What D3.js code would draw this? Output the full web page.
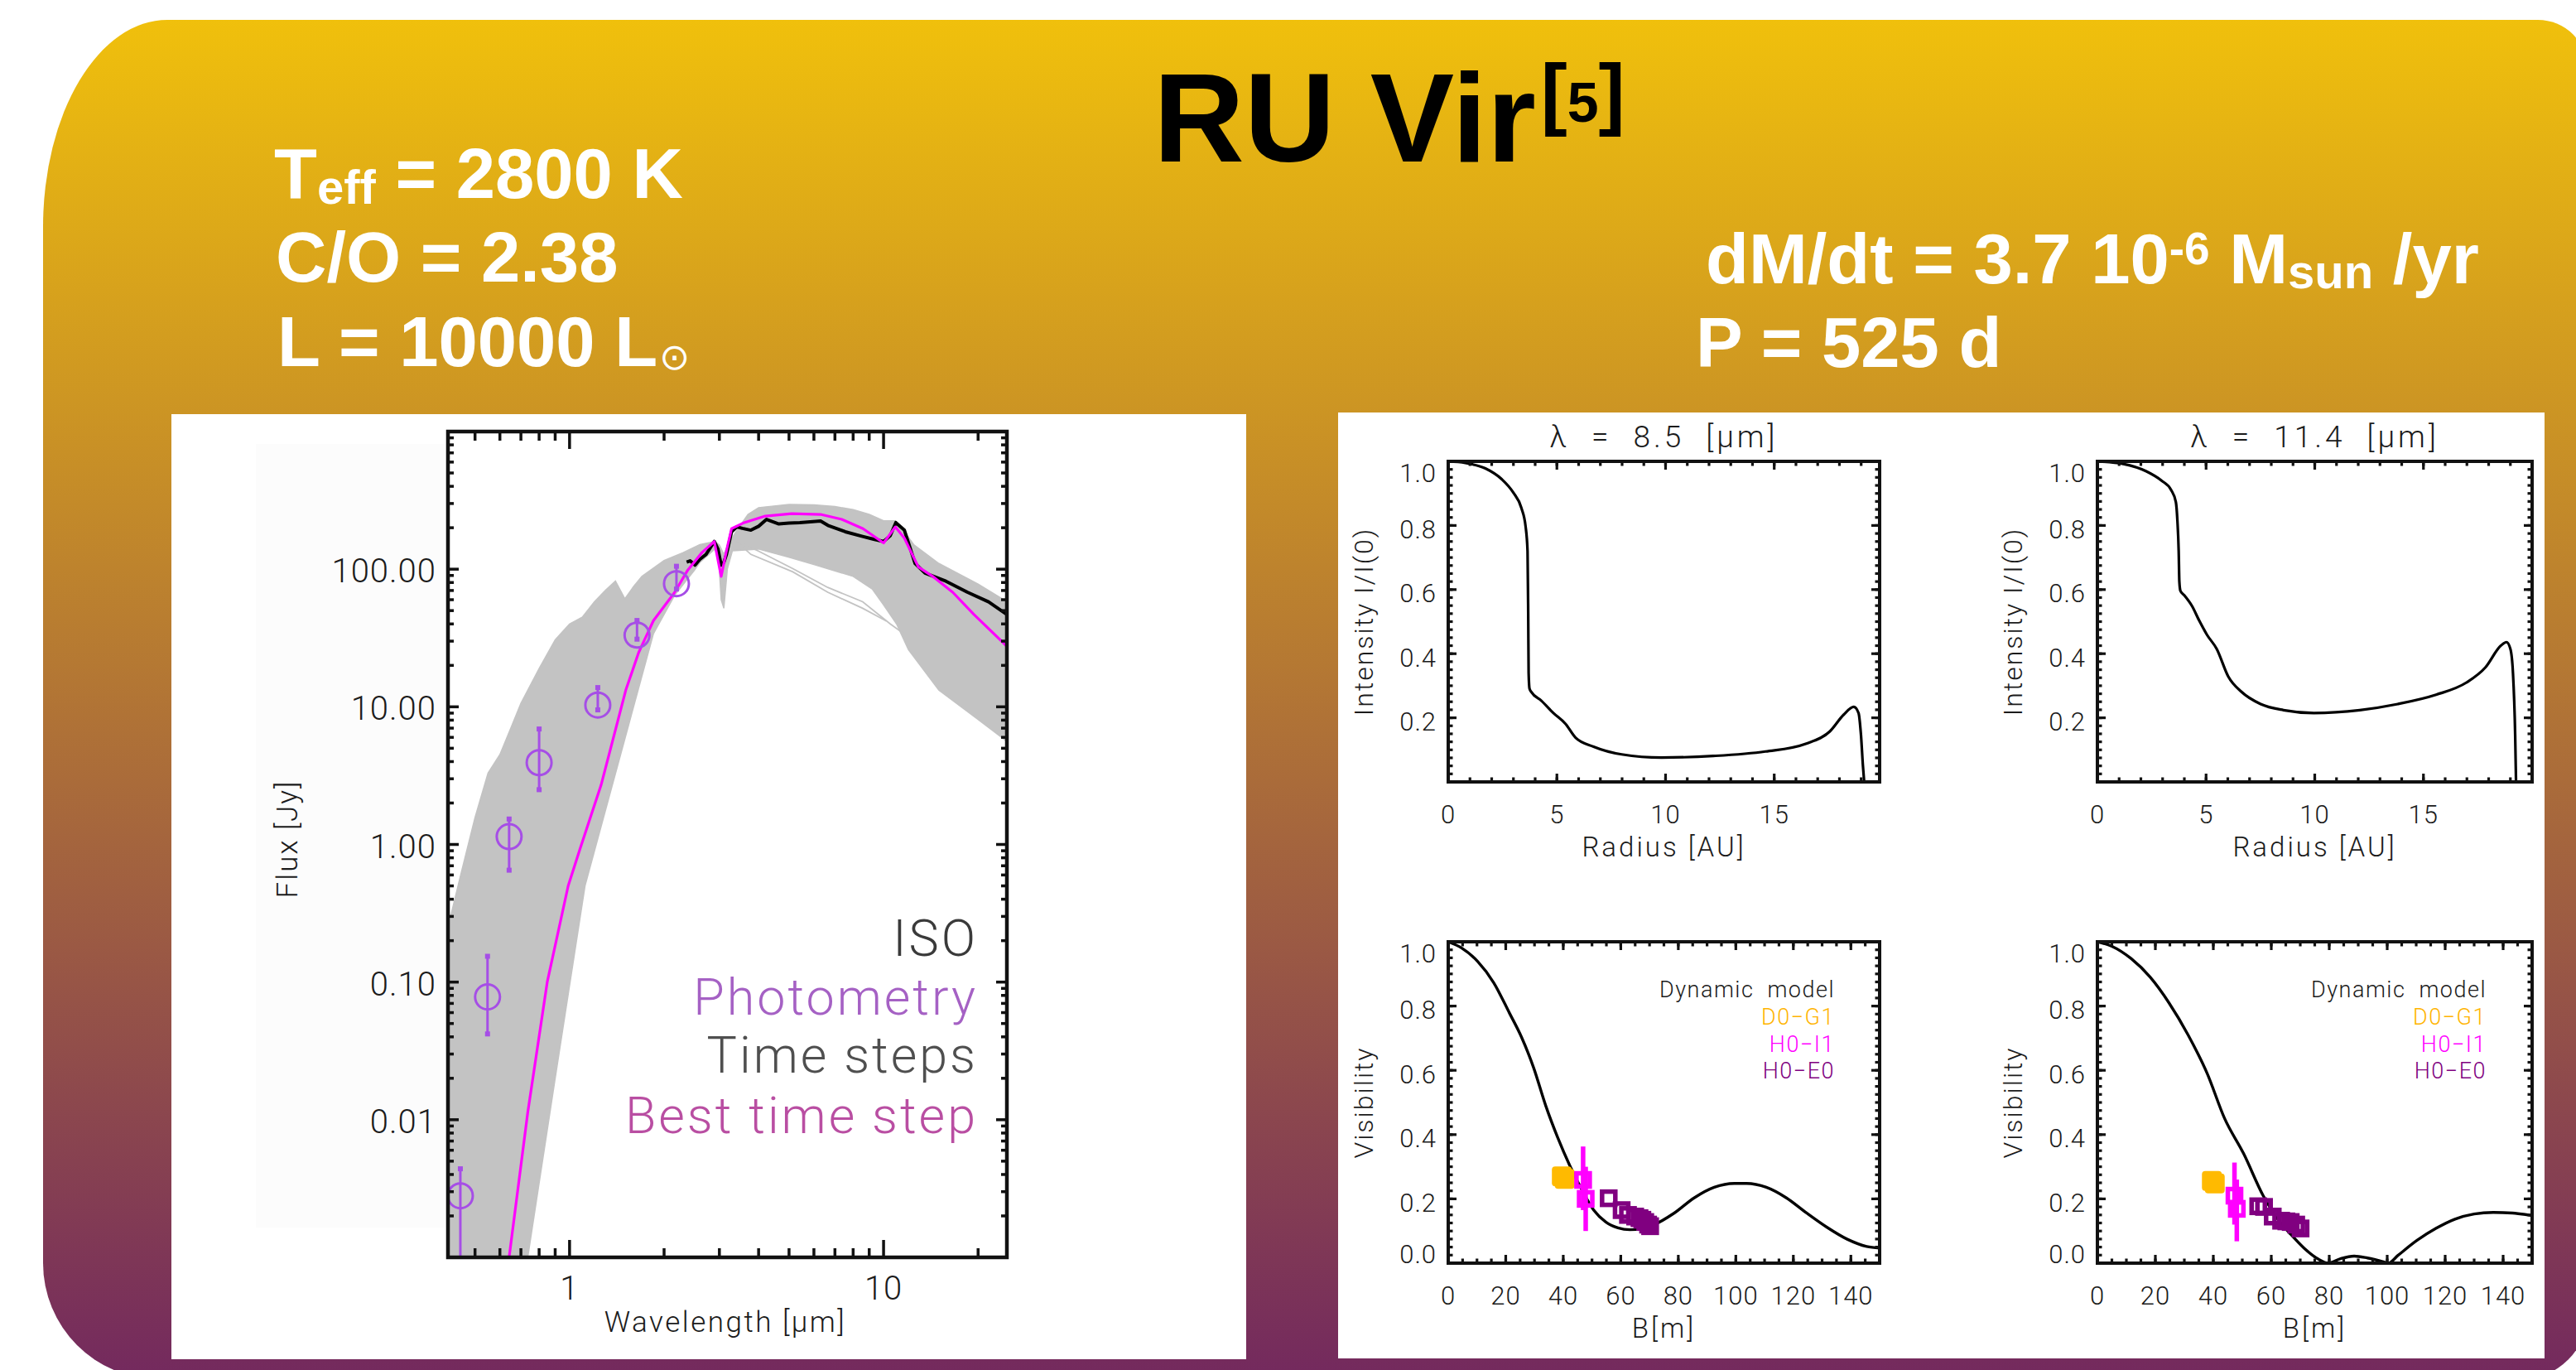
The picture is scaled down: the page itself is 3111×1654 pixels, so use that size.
<!DOCTYPE html>
<html>
<head>
<meta charset="utf-8">
<script src="https://cdn.jsdelivr.net/npm/d3@7"></script>
<style>
  html, body { margin: 0; padding: 0; background: #fff; }
  svg { display: block; }
  .idl { font-family: Roboto, "Open Sans", "DejaVu Sans", sans-serif; font-weight: 300; fill: #1b1b1b; }
  .head { font-family: "Liberation Sans", Arial, sans-serif; font-weight: 700; }
</style>
</head>
<body>
<svg id="slide" width="3111" height="1654"></svg>
<script>
// ---------- SED panel: tick marks and labels ----------
const sedYTicks = [100, 10, 1, 0.1, 0.01];
const sedYLabels = ["100.00", "10.00", "1.00", "0.10", "0.01"];
const sedXTicks = [1, 10];
const sedXLabels = ["1", "10"];
const sedXMinor = [0.5, 0.6, 0.7, 0.8, 0.9, 2, 3, 4, 5, 6, 7, 8, 9, 20];

// Photometry (wavelength in micron, flux in Jy, error bar ends)
const photLambda = [0.449, 0.548, 0.642, 0.80, 1.23, 1.64, 2.19];
const photFlux   = [0.0028, 0.078, 1.14, 3.93, 10.3, 33.2, 78.5];
const photLow    = [0.0004, 0.042, 0.65, 2.5, 9.5, 31, 71.7];
const photHigh   = [0.0044, 0.154, 1.53, 6.9, 13.8, 42.4, 105];

// Envelope of all model time steps
const stepsUpperLambda = [0.41, 0.45, 0.5, 0.55, 0.6, 0.65, 0.7, 0.8, 0.9, 1.0, 1.1, 1.2, 1.3, 1.4, 1.5, 1.6, 1.7, 2.0, 2.3, 2.6, 2.9, 3.0, 3.1, 3.2, 3.4, 3.7, 4.0, 5.0, 6.0, 7.0, 8.0, 9.0, 10.0, 10.9, 11.6, 12.5, 15, 20, 24.7];
const stepsUpperFlux   = [0.25, 0.6, 1.57, 3.3, 4.5, 7.0, 10.6, 19, 30.7, 40, 45, 58, 70, 82, 61, 75, 88.6, 115.7, 132, 151, 159, 150, 128, 150, 190, 250, 280, 295, 293, 285, 271, 250, 225, 225, 190, 150, 110, 78, 58];
const stepsLowerLambda = [24.7, 20, 15, 12, 11, 10, 9.2, 8, 6, 5, 4, 3.3, 3.18, 3.1, 3.04, 2.98, 2.9, 2.6, 2.5, 2.16, 1.85, 1.55, 1.12, 0.9, 0.736, 0.41];
const stepsLowerFlux   = [5.6, 8.1, 13.2, 26, 40, 55, 71.7, 88.6, 108, 122, 140, 136, 100, 52, 60, 125, 140, 112, 98.6, 64.5, 34, 7.7, 0.5, 0.02, 0.001, 0.001];
// Two time steps that fall below the bulk in the mid-infrared
const stepOutlierALambda = [3.41, 3.98, 5.14, 6.64, 8.58, 10.5, 11.6];
const stepOutlierAFlux   = [159, 136, 101, 73.7, 58, 40, 34];
const stepOutlierBLambda = [3.5, 3.78, 5.14, 6.64, 8.58, 10.2];
const stepOutlierBFlux   = [150, 128, 95.6, 68, 52, 42];

// Best-fitting time step
const bestLambda = [0.642, 0.736, 0.849, 0.99, 1.08, 1.26, 1.51, 1.66, 1.85, 2.16, 2.38, 2.64, 2.89, 3.04, 3.16, 3.28, 3.6, 4.2, 5.1, 6.3, 7.36, 8.6, 10.0, 10.9, 11.65, 12.9, 14.3, 16.6, 19.4, 24.7];
const bestFlux   = [0.001, 0.0113, 0.1, 0.5, 0.93, 2.7, 13.2, 24.8, 42.3, 67.8, 98.6, 132, 159, 88.6, 136, 197, 218, 243, 253, 250, 230, 197, 155, 203, 168, 104, 89, 68, 46.9, 27.5];

// ISO spectrum
const isoLambda = [2.36, 2.42, 2.51, 2.6, 2.72, 2.89, 2.97, 3.04, 3.1, 3.16, 3.28, 3.41, 3.55, 3.78, 4.0, 4.24, 4.64, 5.0, 5.41, 6.3, 6.65, 7.55, 8.57, 9.3, 10.0, 10.5, 10.94, 11.65, 12.6, 13.55, 15.8, 18.5, 21.6, 24.7];
const isoFlux   = [112.6, 115, 107, 118, 128, 159, 140, 107, 112, 128, 187, 203, 198, 192, 205, 230, 213, 216, 218, 224, 208, 187, 173, 165, 159, 175, 218, 192, 110, 93.6, 81.8, 68, 57.9, 46.9];

// ---------- Intensity profiles ----------
const int85Radius = [0, 0.79, 1.71, 2.45, 3.0, 3.37, 3.56, 3.65, 3.68, 3.70, 3.74, 3.83, 4.29, 4.84, 5.40, 5.86, 6.69, 7.98, 9.82, 12.2, 14.6, 16.45, 17.55, 18.2, 18.66, 18.88, 18.99, 19.08, 19.14];
const int85Value  = [1.0, 0.995, 0.978, 0.945, 0.902, 0.854, 0.797, 0.72, 0.53, 0.339, 0.291, 0.28, 0.253, 0.215, 0.181, 0.138, 0.110, 0.086, 0.076, 0.081, 0.095, 0.119, 0.157, 0.21, 0.234, 0.215, 0.148, 0.052, 0.0];
const int114Radius = [0, 1.19, 2.25, 2.95, 3.39, 3.61, 3.68, 3.74, 3.77, 3.82, 4.0, 4.35, 4.70, 5.05, 5.49, 6.02, 6.63, 7.51, 8.56, 9.96, 12.07, 13.82, 15.58, 16.98, 17.86, 18.56, 18.82, 19.0, 19.12, 19.22, 19.26];
const int114Value  = [1.0, 0.992, 0.969, 0.94, 0.911, 0.873, 0.816, 0.72, 0.625, 0.596, 0.582, 0.549, 0.501, 0.458, 0.415, 0.329, 0.281, 0.243, 0.224, 0.215, 0.224, 0.243, 0.272, 0.31, 0.358, 0.425, 0.436, 0.415, 0.339, 0.148, 0.0];

// ---------- Visibility curves ----------
const vis85B = [0, 4.6, 10.2, 15.8, 21.3, 25.5, 29.7, 33.9, 38.1, 42.3, 46.5, 50.6, 54.8, 59.0, 63.2, 67.4, 71.6, 78.6, 85.5, 92.5, 99.5, 103.7, 110.6, 117.6, 124.6, 131.6, 138.6, 145.5, 150];
const vis85V = [1.0, 0.981, 0.939, 0.873, 0.778, 0.703, 0.608, 0.49, 0.39, 0.303, 0.228, 0.165, 0.128, 0.11, 0.104, 0.108, 0.12, 0.156, 0.203, 0.236, 0.248, 0.248, 0.236, 0.203, 0.156, 0.112, 0.075, 0.052, 0.047];
const vis114B = [0, 5, 11.6, 18.2, 24.7, 31.3, 37.9, 43.9, 50.5, 57.2, 62, 66.8, 71.5, 76.3, 79.6, 83.9, 88.6, 93.2, 98.4, 100.4, 103.7, 110.3, 116.8, 123.4, 130, 136.6, 143.2, 150];
const vis114V = [1.0, 0.986, 0.948, 0.89, 0.81, 0.71, 0.59, 0.45, 0.34, 0.21, 0.14, 0.089, 0.045, 0.012, 0.0, 0.014, 0.022, 0.016, 0.005, 0.0, 0.024, 0.071, 0.108, 0.137, 0.153, 0.158, 0.156, 0.148];

// Interferometric measurements: D0-G1, H0-I1, H0-E0
const d0g1B85 = [39.5, 40.5];   const d0g1V85 = [0.27, 0.262];
const h0i1B85 = [46.9, 47.8];   const h0i1V85 = [0.259, 0.20];
const h0i1Lo85 = [0.165, 0.10]; const h0i1Hi85 = [0.363, 0.30];
const h0e0B85 = [55.8, 60.3, 62.5, 65.0, 66.5, 67.5, 68.5, 69.5, 70.2];
const h0e0V85 = [0.202, 0.165, 0.15, 0.145, 0.14, 0.135, 0.128, 0.12, 0.115];

const d0g1B114 = [39.5, 40.5];   const d0g1V114 = [0.256, 0.248];
const h0i1B114 = [47.3, 48.1];   const h0i1V114 = [0.21, 0.169];
const h0i1Lo114 = [0.12, 0.068]; const h0i1Hi114 = [0.313, 0.26];
const h0e0B114 = [55.5, 57.5, 60.5, 63.4, 65.2, 66.7, 68.6, 70.1];
const h0e0V114 = [0.177, 0.175, 0.145, 0.132, 0.13, 0.128, 0.12, 0.108];

const intYTicks = [0.2, 0.4, 0.6, 0.8, 1.0];
const intYLabels = ["0.2", "0.4", "0.6", "0.8", "1.0"];
const intXTicks = [0, 5, 10, 15];
const visYTicks = [0, 0.2, 0.4, 0.6, 0.8, 1.0];
const visYLabels = ["0.0", "0.2", "0.4", "0.6", "0.8", "1.0"];
const visXTicks = [0, 20, 40, 60, 80, 100, 120, 140];

const visLegend = ["Dynamic model", "D0\u2212G1", "H0\u2212I1", "H0\u2212E0"];
const visLegendColors = ["#1b1b1b", "#ffb400", "#ff00ff", "#800080"];
const sedLegend = ["ISO", "Photometry", "Time steps", "Best time step"];
const sedLegendColors = ["#3a3a3a", "#a561c4", "#4f4f4f", "#b94ea2"];

// ---------- drawing ----------
const svg = d3.select("#slide");
const defs = svg.append("defs");
const grad = defs.append("linearGradient").attr("id", "bgGrad")
  .attr("x1", 0).attr("y1", 0).attr("x2", 0).attr("y2", 1);
grad.append("stop").attr("offset", 0).attr("stop-color", "#F0C00C");
grad.append("stop").attr("offset", 1).attr("stop-color", "#73295E");

svg.append("rect").attr("width", 3111).attr("height", 1654).attr("fill", "#fff");

// Rounded slide background
{
  const L = 52, T = 24, R = 3125, B = 1665;
  const d = `M${L},${T + 250} A150,250 0 0 1 ${L + 150},${T} L${R - 60},${T} A60,60 0 0 1 ${R},${T + 60} ` +
            `L${R},${B - 80} A80,80 0 0 1 ${R - 80},${B} L${L + 140},${B} A140,140 0 0 1 ${L},${B - 140} Z`;
  svg.append("path").attr("d", d).attr("fill", "url(#bgGrad)");
}

// Header texts
const title = svg.append("text").attr("class", "head").attr("x", 1393).attr("y", 195)
  .attr("font-size", 152).attr("fill", "#000");
title.append("tspan").text("RU Vir");
title.append("tspan").attr("font-size", 96).attr("dy", -50).attr("dx", 6).text("[");
title.append("tspan").attr("font-size", 68).attr("dy", 2).text("5");
title.append("tspan").attr("font-size", 96).attr("dy", -2).text("]");

function headLine(x, y) {
  return svg.append("text").attr("class", "head").attr("x", x).attr("y", y)
    .attr("font-size", 85).attr("fill", "#fff");
}
{
  const t1 = headLine(331, 239);
  t1.append("tspan").text("T");
  t1.append("tspan").attr("font-size", 58).attr("dy", 7).text("eff");
  t1.append("tspan").attr("dy", -7).text(" = 2800 K");
  headLine(333, 340).text("C/O = 2.38");
  const t3 = headLine(335, 442);
  t3.append("tspan").text("L = 10000 L");
  t3.append("tspan").attr("font-family", "'DejaVu Sans', sans-serif").attr("font-weight", 400)
    .attr("font-size", 44).attr("dy", 4).attr("dx", 2).text("\u2299");
  const t4 = headLine(2060, 342);
  t4.append("tspan").text("dM/dt = 3.7 10");
  t4.append("tspan").attr("font-size", 55).attr("dy", -23).text("-6");
  t4.append("tspan").attr("dy", 23).text(" M");
  t4.append("tspan").attr("font-size", 58).attr("dy", 6).text("sun");
  t4.append("tspan").attr("dy", -6).text(" /yr");
  headLine(2048, 443).text("P = 525 d");
}

// White figure panels
svg.append("rect").attr("x", 207).attr("y", 500).attr("width", 1298).attr("height", 1141).attr("fill", "#fff");
svg.append("rect").attr("x", 309).attr("y", 536).attr("width", 232).attr("height", 946).attr("fill", "#fcfcfc");
svg.append("rect").attr("x", 1616).attr("y", 498).attr("width", 1457).attr("height", 1142).attr("fill", "#fff");

// Inward ticks on all four sides plus the heavy frame
function drawFrame(g, x, y, cfg) {
  const [xa, xb] = x.range();
  const [ya, yb] = y.range();
  const t = g.append("g").attr("stroke", "#111").attr("stroke-width", cfg.tickW);
  const xt = (vals, len) => vals.forEach(v => {
    const px = x(v);
    t.append("line").attr("x1", px).attr("x2", px).attr("y1", ya).attr("y2", ya - len);
    t.append("line").attr("x1", px).attr("x2", px).attr("y1", yb).attr("y2", yb + len);
  });
  const yt = (vals, len) => vals.forEach(v => {
    const py = y(v);
    t.append("line").attr("x1", xa).attr("x2", xa + len).attr("y1", py).attr("y2", py);
    t.append("line").attr("x1", xb).attr("x2", xb - len).attr("y1", py).attr("y2", py);
  });
  xt(cfg.xMinor, cfg.xMinLen); xt(cfg.xMajor, cfg.xMajLen);
  yt(cfg.yMinor, cfg.yMinLen); yt(cfg.yMajor, cfg.yMajLen);
  g.append("rect").attr("x", xa).attr("y", yb).attr("width", xb - xa).attr("height", ya - yb)
    .attr("fill", "none").attr("stroke", "#111").attr("stroke-width", cfg.frameW);
}

function idlText(g, x, y, size, str) {
  return g.append("text").attr("class", "idl").attr("x", x).attr("y", y)
    .attr("font-size", size).attr("letter-spacing", 1).text(str);
}

// ---------- SED ----------
{
  const g = svg.append("g");
  const x = d3.scaleLog().domain([0.41, 24.7]).range([541, 1216]);
  const y = d3.scaleLog().domain([0.001, 1000]).range([1518, 521]);
  defs.append("clipPath").attr("id", "sedClip").append("rect")
    .attr("x", 541).attr("y", 521).attr("width", 675).attr("height", 997);
  const plot = g.append("g").attr("clip-path", "url(#sedClip)");
  const line = d3.line().x(d => x(d[0])).y(d => y(d[1]));

  const envelope = d3.zip(stepsUpperLambda, stepsUpperFlux).concat(d3.zip(stepsLowerLambda, stepsLowerFlux));
  plot.append("path").attr("d", line(envelope) + "Z").attr("fill", "#c3c3c3").attr("stroke", "#c3c3c3").attr("stroke-width", 1.5);
  [[stepOutlierALambda, stepOutlierAFlux], [stepOutlierBLambda, stepOutlierBFlux]].forEach(([lx, ly]) =>
    plot.append("path").attr("d", line(d3.zip(lx, ly))).attr("fill", "none").attr("stroke", "#c3c3c3").attr("stroke-width", 1.8));

  plot.append("path").attr("d", line(d3.zip(isoLambda, isoFlux))).attr("fill", "none")
    .attr("stroke", "#000").attr("stroke-width", 4).attr("stroke-linejoin", "round");
  plot.append("path").attr("d", line(d3.zip(bestLambda, bestFlux))).attr("fill", "none")
    .attr("stroke", "#ff00ff").attr("stroke-width", 3.2).attr("stroke-linejoin", "round");

  const phot = plot.append("g").attr("stroke", "#a64ee6").attr("fill", "none");
  photLambda.forEach((l, i) => {
    const px = x(l);
    phot.append("line").attr("x1", px).attr("x2", px).attr("y1", y(photLow[i])).attr("y2", y(photHigh[i])).attr("stroke-width", 3);
    [photLow[i], photHigh[i]].forEach(v => phot.append("rect").attr("x", px - 3).attr("y", y(v) - 3)
      .attr("width", 6).attr("height", 6).attr("fill", "#a64ee6").attr("stroke", "none"));
    phot.append("circle").attr("cx", px).attr("cy", y(photFlux[i])).attr("r", 15).attr("stroke-width", 3);
  });

  const yMinor = [];
  [0.001, 0.01, 0.1, 1, 10, 100].forEach(d => [2, 3, 4, 5, 6, 7, 8, 9].forEach(k => yMinor.push(d * k)));
  drawFrame(g, x, y, {
    xMajor: sedXTicks, xMinor: sedXMinor, yMajor: [0.001, 0.01, 0.1, 1, 10, 100, 1000], yMinor: yMinor,
    xMajLen: 21, xMinLen: 11, yMajLen: 13, yMinLen: 7, tickW: 3.5, frameW: 4.5
  });

  sedYTicks.forEach((v, i) => idlText(g, 527, y(v) + 2, 40, sedYLabels[i]).attr("text-anchor", "end").attr("dy", "0.35em"));
  sedXTicks.forEach((v, i) => idlText(g, x(v), 1555, 40, sedXLabels[i]).attr("text-anchor", "middle").attr("dy", "0.35em"));
  idlText(g, 876, 1608, 35, "Wavelength [\u03bcm]").attr("text-anchor", "middle").attr("letter-spacing", 2.5);
  idlText(g, 0, 0, 35, "Flux [Jy]").attr("text-anchor", "middle").attr("dy", "0.35em")
    .attr("letter-spacing", 2).attr("transform", "translate(347,1013) rotate(-90)");

  const legendBase = [1154, 1225, 1295, 1368];
  sedLegend.forEach((s, i) => idlText(g, 1181, legendBase[i], 61, s).attr("text-anchor", "end")
    .attr("letter-spacing", 3).style("fill", sedLegendColors[i]));
}

// ---------- Right-hand panels ----------
function panelText(g, x, y, o) {
  const [xa, xb] = x.range();
  const [ya, yb] = y.range();
  o.yVals.forEach((v, i) => {
    const cy = Math.max(yb + 14.5, Math.min(ya - 11, y(v) + 4.5));
    idlText(g, xa - 14, cy, 31, o.yLabels[i]).attr("text-anchor", "end").attr("dy", "0.35em");
  });
  o.xVals.forEach(v => idlText(g, x(v), ya + 39, 31, String(v)).attr("text-anchor", "middle").attr("dy", "0.35em"));
  idlText(g, (xa + xb) / 2, ya + 90, 33, o.xTitle).attr("text-anchor", "middle").attr("letter-spacing", 3);
  idlText(g, 0, 0, 32, o.yTitle).attr("text-anchor", "middle").attr("dy", "0.35em").attr("letter-spacing", 2)
    .attr("transform", `translate(${xa - 102},${(ya + yb) / 2}) rotate(-90)`);
  if (o.title) {
    idlText(g, (xa + xb) / 2, yb - 17, 37, o.title).attr("text-anchor", "middle")
      .style("white-space", "pre").attr("letter-spacing", 4);
  }
}

function intensityPanel(x0, x1, rMax, radius, value, titleStr) {
  const g = svg.append("g");
  const x = d3.scaleLinear().domain([0, rMax]).range([x0, x1]);
  const y = d3.scaleLinear().domain([0, 1]).range([944, 557]);
  g.append("path").attr("d", d3.line().x(d => x(d[0])).y(d => y(d[1])).curve(d3.curveMonotoneX)(d3.zip(radius, value)))
    .attr("fill", "none").attr("stroke", "#000").attr("stroke-width", 3.2);
  drawFrame(g, x, y, {
    xMajor: intXTicks, xMinor: d3.range(1, rMax, 1), yMajor: visYTicks, yMinor: d3.range(0.025, 1, 0.025),
    xMajLen: 10, xMinLen: 5.5, yMajLen: 10, yMinLen: 5.5, tickW: 3.2, frameW: 4
  });
  panelText(g, x, y, { yVals: intYTicks, yLabels: intYLabels, xVals: intXTicks,
    xTitle: "Radius [AU]", yTitle: "Intensity  I/I(0)", title: titleStr });
}

function visibilityPanel(x0, x1, bx, vy, d0, h0i1, h0e0, legendRight) {
  const g = svg.append("g");
  const x = d3.scaleLinear().domain([0, 150]).range([x0, x1]);
  const y = d3.scaleLinear().domain([0, 1]).range([1525, 1137]);
  g.append("path").attr("d", d3.line().x(d => x(d[0])).y(d => y(d[1])).curve(d3.curveMonotoneX)(d3.zip(bx, vy)))
    .attr("fill", "none").attr("stroke", "#000").attr("stroke-width", 3.4);

  // D0-G1: filled squares
  d0[0].forEach((b, i) => g.append("rect").attr("x", x(b) - 12).attr("y", y(d0[1][i]) - 12)
    .attr("width", 24).attr("height", 24).attr("rx", 4).attr("fill", "#ffba00"));
  // H0-I1: open squares with error bars
  h0i1[0].forEach((b, i) => {
    g.append("line").attr("x1", x(b)).attr("x2", x(b)).attr("y1", y(h0i1[2][i])).attr("y2", y(h0i1[3][i]))
      .attr("stroke", "#ff00ff").attr("stroke-width", 5.5);
  });
  h0i1[0].forEach((b, i) => g.append("rect").attr("x", x(b) - 8).attr("y", y(h0i1[1][i]) - 8)
    .attr("width", 16).attr("height", 16).attr("fill", "none").attr("stroke", "#ff00ff").attr("stroke-width", 5.5));
  // H0-E0: open squares
  h0e0[0].forEach((b, i) => g.append("rect").attr("x", x(b) - 8).attr("y", y(h0e0[1][i]) - 8)
    .attr("width", 16).attr("height", 16).attr("fill", "none").attr("stroke", "#800080").attr("stroke-width", 5.5));

  drawFrame(g, x, y, {
    xMajor: visXTicks, xMinor: d3.range(5, 150, 5), yMajor: visYTicks, yMinor: d3.range(0.025, 1, 0.025),
    xMajLen: 10, xMinLen: 5.5, yMajLen: 10, yMinLen: 5.5, tickW: 3.2, frameW: 4
  });
  panelText(g, x, y, { yVals: visYTicks, yLabels: visYLabels, xVals: visXTicks, xTitle: "B[m]", yTitle: "Visibility" });

  const base = [1204, 1237, 1270, 1302];
  visLegend.forEach((s, i) => idlText(g, legendRight, base[i], 27, s).attr("text-anchor", "end")
    .attr("letter-spacing", 1.5).attr("word-spacing", 8).style("fill", visLegendColors[i]));
}

intensityPanel(1749, 2270, 19.85, int85Radius, int85Value, "\u03bb  =  8.5  [\u03bcm]");
intensityPanel(2533, 3058, 20, int114Radius, int114Value, "\u03bb  =  11.4  [\u03bcm]");
visibilityPanel(1749, 2270, vis85B, vis85V,
  [d0g1B85, d0g1V85], [h0i1B85, h0i1V85, h0i1Lo85, h0i1Hi85], [h0e0B85, h0e0V85], 2216);
visibilityPanel(2533, 3058, vis114B, vis114V,
  [d0g1B114, d0g1V114], [h0i1B114, h0i1V114, h0i1Lo114, h0i1Hi114], [h0e0B114, h0e0V114], 3003);
</script>
</body>
</html>
